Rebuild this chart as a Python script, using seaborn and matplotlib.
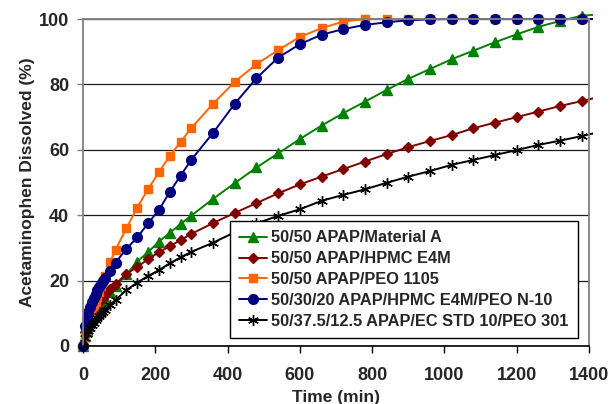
import matplotlib
matplotlib.use("Agg")
import matplotlib.pyplot as plt
from matplotlib.transforms import Bbox, TransformedBbox
import seaborn as sns
import pandas as pd

time_min = [0, 5, 10, 15, 20, 25, 30, 35, 40, 45, 50, 55, 60, 75, 90,
            120, 150, 180, 210, 240, 270, 300, 360, 420, 480, 540, 600,
            660, 720, 780, 840, 900, 960, 1020, 1080, 1140, 1200, 1260,
            1320, 1380, 1440]

material_a = [0, 3.0, 4.7, 6.1, 7.3, 8.4, 9.4, 10.4, 11.3, 12.1, 12.9, 13.7, 14.4, 16.4, 18.2,
              21.9, 25.8, 28.7, 31.9, 34.6, 37.3, 39.9, 45.0, 49.8, 54.6, 58.9, 63.3,
              67.4, 71.2, 74.7, 78.3, 81.7, 84.7, 87.7, 90.3, 92.9, 95.3, 97.6,
              99.4, 101.0, 101.5]

hpmc_e4m = [0, 4.4, 6.3, 7.7, 8.9, 10.0, 10.9, 11.8, 12.6, 13.4, 14.1, 14.8, 15.5, 17.3, 19.0,
            22.0, 24.2, 26.5, 28.7, 30.5, 32.4, 34.3, 37.6, 40.7, 43.7, 46.7, 49.4,
            51.8, 54.1, 56.4, 58.7, 60.8, 62.7, 64.5, 66.6, 68.3, 70.0, 71.7,
            73.4, 74.9, 76.5]

peo_1105 = [0, 2.8, 4.8, 6.7, 8.5, 10.2, 11.8, 13.4, 15.0, 16.6, 18.2, 19.8, 21.5, 25.7, 29.4,
            36.0, 42.3, 48.0, 53.1, 58.1, 62.4, 66.7, 74.1, 80.8, 86.2, 90.5, 94.5,
            97.2, 99.2, 100, 100, 100, 100, 100, 100, 100, 100, 100,
            100, 100, 100]

hpmc_peo_n10 = [0, 6.0, 8.5, 10.4, 12.0, 13.4, 14.7, 15.9, 17.0, 18.0, 19.0, 19.9, 20.8, 22.9, 25.5,
                29.7, 33.2, 37.5, 41.6, 47.1, 52.1, 57.0, 65.2, 74.1, 81.9, 88.2, 92.3,
                95.2, 96.9, 98.2, 99.0, 99.6, 99.9, 100, 100, 100, 100, 100,
                100, 100, 100]

ec_peo_301 = [0, 2.4, 3.6, 4.6, 5.5, 6.3, 7.1, 7.8, 8.5, 9.2, 9.8, 10.5, 11.1, 12.6, 14.1,
              17.1, 19.4, 21.4, 23.2, 25.3, 27.1, 28.8, 31.6, 34.8, 37.5, 39.8, 41.8,
              44.4, 46.2, 47.9, 49.9, 51.8, 53.5, 55.4, 56.9, 58.4, 59.9, 61.5,
              62.8, 64.2, 65.7]

series_labels = ["50/50 APAP/Material A",
                 "50/50 APAP/HPMC E4M",
                 "50/50 APAP/PEO 1105",
                 "50/30/20 APAP/HPMC E4M/PEO N-10",
                 "50/37.5/12.5 APAP/EC STD 10/PEO 301"]
series_values = [material_a, hpmc_e4m, peo_1105, hpmc_peo_n10, ec_peo_301]

x_ticks = [0, 200, 400, 600, 800, 1000, 1200, 1400]
y_ticks = [0, 20, 40, 60, 80, 100]

colors = ["#008000", "#800000", "#FF6600", "#000080", "#000000"]
markers = ["^", "D", "s", "o", (6, 2, 0)]
msizes = [6.8, 4.8, 6.2, 7.0, 7.8]

sns.set_theme(style="white")
plt.rcParams["font.family"] = ["Liberation Sans", "DejaVu Sans"]
plt.rcParams["font.weight"] = "bold"

fig = plt.figure(figsize=(6.11, 4.04), dpi=100)
ax = fig.add_axes([83 / 611, 1 - 346 / 404, (589 - 83) / 611, (346 - 19) / 404])

for lab, vals, c, m, ms in zip(series_labels, series_values, colors, markers, msizes):
    df = pd.DataFrame({"Time": time_min, "Value": vals})
    sns.lineplot(data=df, x="Time", y="Value", ax=ax, color=c, marker=m,
                 markersize=ms, markeredgecolor=c, markerfacecolor=c,
                 markeredgewidth=1.0, linewidth=1.4, label=lab, sort=False,
                 errorbar=None)

clip = TransformedBbox(Bbox([[-0.03, -0.04], [1.008, 1.04]]), ax.transAxes)
for ln in ax.lines:
    ln.set_clip_path(None)
    ln.set_clip_box(clip)

ax.set_xlim(0, 1400)
ax.set_ylim(0, 100)
ax.set_xticks(x_ticks)
ax.set_yticks(y_ticks)
ax.tick_params(axis="x", direction="out", length=5, width=1, color="black",
               labelsize=13, pad=10, bottom=True)
ax.tick_params(axis="y", direction="out", length=4, width=1, color="#808080",
               labelsize=13, pad=6, left=True)
for t in ax.get_xticklabels() + ax.get_yticklabels():
    t.set_fontweight("bold")

ax.yaxis.grid(True, color="#1a1a1a", linewidth=0.9)
ax.xaxis.grid(False)
ax.set_axisbelow(True)

for side in ["left", "right", "top"]:
    ax.spines[side].set_color("#808080")
    ax.spines[side].set_linewidth(1.3)
ax.spines["bottom"].set_color("black")
ax.spines["bottom"].set_linewidth(1.2)

ax.set_xlabel("Time (min)", fontsize=12.5, fontweight="bold")
ax.set_ylabel("Acetaminophen Dissolved (%)", fontsize=12.5, fontweight="bold")
ax.xaxis.set_label_coords(0.5, -0.134)
ax.yaxis.set_label_coords(-0.094, 0.5)

leg = ax.legend(loc="lower right", bbox_to_anchor=(0.978, 0.0245),
                prop={"size": 11.8, "weight": "bold"}, frameon=True,
                fancybox=False, framealpha=1, edgecolor="black",
                borderpad=0.55, labelspacing=0.36, handlelength=1.7,
                handletextpad=0.3, borderaxespad=0)
leg.get_frame().set_linewidth(1.0)

fig.savefig("out.png", dpi=100)
